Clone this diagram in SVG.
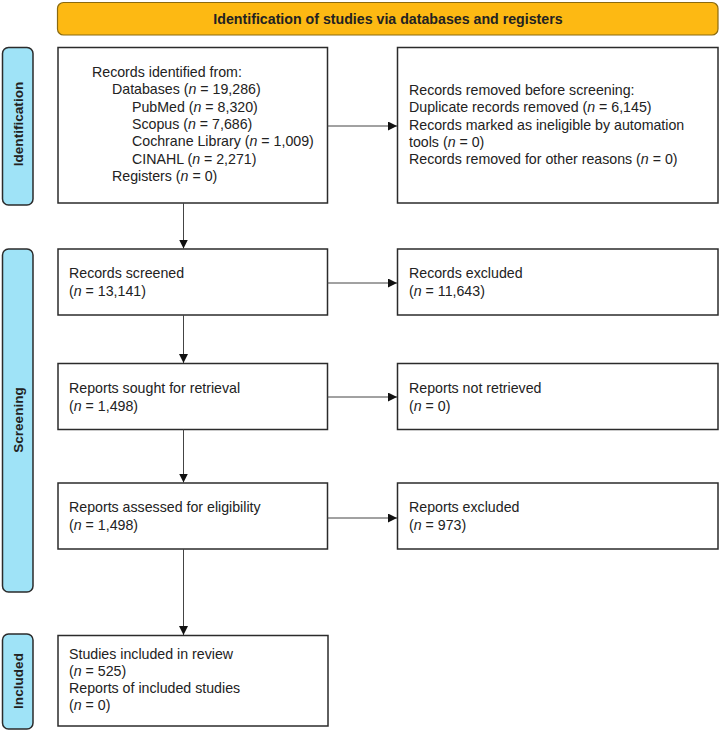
<svg xmlns="http://www.w3.org/2000/svg" width="721" height="730" viewBox="0 0 721 730">
<style>
.box{fill:#fff;stroke:#2b2b2b;stroke-width:1.5}
.side{fill:#9fe3f7;stroke:#2b2b2b;stroke-width:1.5}
.banner{fill:#fdb913;stroke:#8a6a10;stroke-width:1.2}
.t{font-family:"Liberation Sans",Arial,sans-serif;font-size:14.2px;fill:#222}
.b{font-weight:bold}
.s{font-size:13.6px}
.i{font-style:italic}
.c{stroke:#444;stroke-width:1;fill:none}
</style>
<defs>
<marker id="ah" viewBox="0 0 10 10" refX="10" refY="5" markerWidth="9" markerHeight="9" markerUnits="userSpaceOnUse" orient="auto">
<path d="M0,0 L10,5 L0,10 Z" fill="#111"/>
</marker>
</defs>
<g id="banner">
<rect class="banner" x="57.5" y="2.5" width="660.5" height="32.5" rx="6"/>
<text class="t b" x="388" y="23.5" text-anchor="middle">Identification of studies via databases and registers</text>
</g>
<g id="side-identification">
<rect class="side" x="2.5" y="47.5" width="30.5" height="157.5" rx="6"/>
<text class="t b s" transform="translate(23,124) rotate(-90)" text-anchor="middle">Identification</text>
</g>
<g id="side-screening">
<rect class="side" x="2.5" y="249" width="30.5" height="343" rx="6"/>
<text class="t b s" transform="translate(23,420) rotate(-90)" text-anchor="middle">Screening</text>
</g>
<g id="side-included">
<rect class="side" x="2.5" y="634" width="30.5" height="95" rx="6"/>
<text class="t b s" transform="translate(23,681) rotate(-90)" text-anchor="middle">Included</text>
</g>
<g id="records-identified">
<rect class="box" x="58" y="47.5" width="269.5" height="155.5"/>
<text class="t" x="92" y="77">Records identified from:</text>
<text class="t" x="112" y="94.3">Databases (<tspan class="i">n</tspan> = 19,286)</text>
<text class="t" x="132" y="111.6">PubMed (<tspan class="i">n</tspan> = 8,320)</text>
<text class="t" x="132" y="128.9">Scopus (<tspan class="i">n</tspan> = 7,686)</text>
<text class="t" x="132" y="146.2">Cochrane Library (<tspan class="i">n</tspan> = 1,009)</text>
<text class="t" x="132" y="163.5">CINAHL (<tspan class="i">n</tspan> = 2,271)</text>
<text class="t" x="112" y="180.8">Registers (<tspan class="i">n</tspan> = 0)</text>
</g>
<g id="records-removed">
<rect class="box" x="397.5" y="47.5" width="320.5" height="155.5"/>
<text class="t" x="409" y="95">Records removed before screening:</text>
<text class="t" x="409" y="112.3">Duplicate records removed (<tspan class="i">n</tspan> = 6,145)</text>
<text class="t" x="409" y="129.6">Records marked as ineligible by automation</text>
<text class="t" x="409" y="146.9">tools (<tspan class="i">n</tspan> = 0)</text>
<text class="t" x="409" y="164.2">Records removed for other reasons (<tspan class="i">n</tspan> = 0)</text>
</g>
<g id="records-screened">
<rect class="box" x="58" y="249" width="269.5" height="66"/>
<text class="t" x="69" y="278">Records screened</text>
<text class="t" x="69" y="296">(<tspan class="i">n</tspan> = 13,141)</text>
</g>
<g id="records-excluded">
<rect class="box" x="397.5" y="249" width="320.5" height="66"/>
<text class="t" x="409" y="278">Records excluded</text>
<text class="t" x="409" y="296">(<tspan class="i">n</tspan> = 11,643)</text>
</g>
<g id="reports-sought">
<rect class="box" x="58" y="363.5" width="269.5" height="66"/>
<text class="t" x="69" y="393">Reports sought for retrieval</text>
<text class="t" x="69" y="411">(<tspan class="i">n</tspan> = 1,498)</text>
</g>
<g id="reports-not-retrieved">
<rect class="box" x="397.5" y="363.5" width="320.5" height="66"/>
<text class="t" x="409" y="393">Reports not retrieved</text>
<text class="t" x="409" y="411">(<tspan class="i">n</tspan> = 0)</text>
</g>
<g id="reports-assessed">
<rect class="box" x="58" y="483" width="269.5" height="66"/>
<text class="t" x="69" y="512">Reports assessed for eligibility</text>
<text class="t" x="69" y="530">(<tspan class="i">n</tspan> = 1,498)</text>
</g>
<g id="reports-excluded">
<rect class="box" x="397.5" y="483" width="320.5" height="66"/>
<text class="t" x="409" y="512">Reports excluded</text>
<text class="t" x="409" y="530">(<tspan class="i">n</tspan> = 973)</text>
</g>
<g id="studies-included">
<rect class="box" x="58" y="635.5" width="270" height="90.5"/>
<text class="t" x="69" y="659">Studies included in review</text>
<text class="t" x="69" y="676">(<tspan class="i">n</tspan> = 525)</text>
<text class="t" x="69" y="693">Reports of included studies</text>
<text class="t" x="69" y="710">(<tspan class="i">n</tspan> = 0)</text>
</g>
<g id="connectors">
<line class="c" x1="327.5" y1="126" x2="397" y2="126" marker-end="url(#ah)"/>
<line class="c" x1="183.5" y1="203" x2="183.5" y2="248.5" marker-end="url(#ah)"/>
<line class="c" x1="327.5" y1="283" x2="397" y2="283" marker-end="url(#ah)"/>
<line class="c" x1="183.5" y1="315" x2="183.5" y2="363" marker-end="url(#ah)"/>
<line class="c" x1="327.5" y1="397" x2="397" y2="397" marker-end="url(#ah)"/>
<line class="c" x1="183.5" y1="429.5" x2="183.5" y2="482.5" marker-end="url(#ah)"/>
<line class="c" x1="327.5" y1="518" x2="397" y2="518" marker-end="url(#ah)"/>
<line class="c" x1="183.5" y1="549" x2="183.5" y2="635" marker-end="url(#ah)"/>
</g>
</svg>
